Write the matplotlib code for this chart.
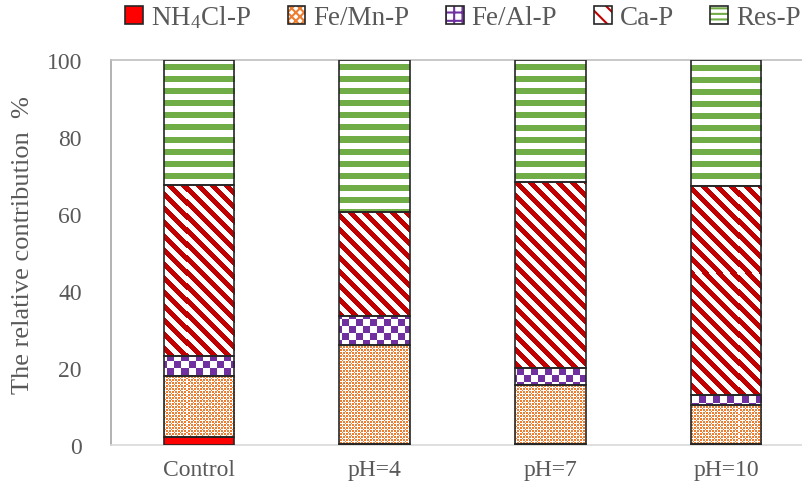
import numpy as np
import matplotlib
matplotlib.use("Agg")
import matplotlib.pyplot as plt
from matplotlib.patches import Patch
from matplotlib.legend_handler import HandlerTuple

# ---- data ----
categories = ["Control", "pH=4", "pH=7", "pH=10"]
nh4cl_p = [2.2, 0.3, 0.3, 0.3]
femn_p = [15.8, 25.7, 15.3, 10.1]
feal_p = [5.1, 7.5, 4.4, 2.6]
ca_p = [44.4, 27.0, 48.3, 54.3]
res_p = [32.5, 39.5, 31.7, 32.7]
series_names = ["NH$_4$Cl-P", "Fe/Mn-P", "Fe/Al-P", "Ca-P", "Res-P"]
yticks = [0, 20, 40, 60, 80, 100]

plt.rcParams["font.family"] = ["Liberation Serif", "DejaVu Serif"]
plt.rcParams["mathtext.fontset"] = "custom"
plt.rcParams["mathtext.rm"] = "Liberation Serif"
plt.rcParams["mathtext.it"] = "Liberation Serif"
plt.rcParams["hatch.linewidth"] = 1.5

TXT = "#595959"
RED = "#FF0000"
ORANGE = "#ED7D31"
PURPLE = "#7030A0"
DRED = "#C00000"
GREEN = "#70AD47"
EDGE = "#262626"

FW, FH = 803, 489
fig = plt.figure(figsize=(FW / 100, FH / 100), dpi=100)
AX_L, AX_T, AX_W, AX_H = 111, 61, 703, 385
ax = fig.add_axes([AX_L / FW, (FH - AX_T - AX_H) / FH, AX_W / FW, AX_H / FH])

x = np.arange(len(categories))
XL = (-0.5, len(categories) - 0.5)
YL = (0, 100)

# ---- pattern images (pixel based) ----
yy, xx = np.mgrid[0:AX_H, 0:AX_W]


def rgba(mask, color):
    c = np.array(matplotlib.colors.to_rgba(color))
    img = np.ones((AX_H, AX_W, 4))
    img[mask] = c
    return img


def plus(uu, vv):
    return ((uu == 0) & (np.abs(vv) <= 2)) | ((vv == 0) & (np.abs(uu) <= 2))


u1 = ((xx + 3) % 6) - 3
v1 = ((yy + 3) % 6) - 3
u2 = (xx % 6) - 3
v2 = (yy % 6) - 3
white = plus(u1, v1) | plus(u2, v2)
pat_femn = rgba(~white, ORANGE)
pat_feal = rgba(((xx // 7) + (yy // 7)) % 2 == 0, PURPLE)
pat_ca = rgba(((xx - yy) % 14) < 7, DRED)
pat_res = rgba(((yy - 5) % 12) < 6, GREEN)

bottom = np.zeros(len(categories))
series = [nh4cl_p, femn_p, feal_p, ca_p, res_p]
patterns = [None, pat_femn, pat_feal, pat_ca, pat_res]
W = 0.4
for vals, pat in zip(series, patterns):
    vals = np.array(vals)
    if pat is None:
        ax.bar(x, vals, W, bottom=bottom, color=RED, edgecolor=EDGE, lw=1.2, zorder=3)
    else:
        bars = ax.bar(x, vals, W, bottom=bottom, facecolor="none", edgecolor=EDGE,
                      lw=1.2, zorder=3)
        for b in bars:
            im = ax.imshow(pat, extent=(XL[0], XL[1], YL[0], YL[1]), origin="upper",
                           interpolation="nearest", aspect="auto", zorder=2)
            im.set_clip_path(b)
    bottom = bottom + vals

ax.set_xlim(*XL)
ax.set_ylim(*YL)
ax.set_xticks(x)
ax.set_xticklabels(categories)
ax.set_yticks(yticks)
ax.tick_params(axis="both", length=0, labelsize=17, labelcolor=TXT)
ax.tick_params(axis="y", pad=21)
ax.tick_params(axis="x", pad=10)
ax.spines["right"].set_visible(False)
ax.spines["top"].set_color("#BFBFBF")
ax.spines["bottom"].set_color("#D9D9D9")
ax.spines["left"].set_color("#A6A6A6")
for s in ["top", "bottom", "left"]:
    ax.spines[s].set_linewidth(1.2)

fig.text(23 / FW, 1 - 245 / FH, "The relative contribution  %", rotation=90,
         ha="center", va="center", fontsize=19, color=TXT)

# ---- legend ----
hatches = [None, "xxxx", "++", "\\\\", "---"]
colors = [RED, ORANGE, PURPLE, DRED, GREEN]
handles = []
for h, c in zip(hatches, colors):
    if h is None:
        inner = Patch(facecolor=c, edgecolor=c, lw=0)
    else:
        inner = Patch(facecolor="white", edgecolor=c, hatch=h, lw=0)
    outer = Patch(facecolor="none", edgecolor=EDGE, lw=1.2)
    handles.append((inner, outer))
leg = fig.legend(handles, series_names, loc="center", ncol=5,
                 bbox_to_anchor=(463 / FW, 1 - 18 / FH), frameon=False,
                 fontsize=19.5, handlelength=0.65, handleheight=0.65,
                 handletextpad=0.3, columnspacing=1.35,
                 handler_map={tuple: HandlerTuple(ndivide=1, pad=0)})
for t in leg.get_texts():
    t.set_color(TXT)

fig.savefig("out.png", dpi=100)
